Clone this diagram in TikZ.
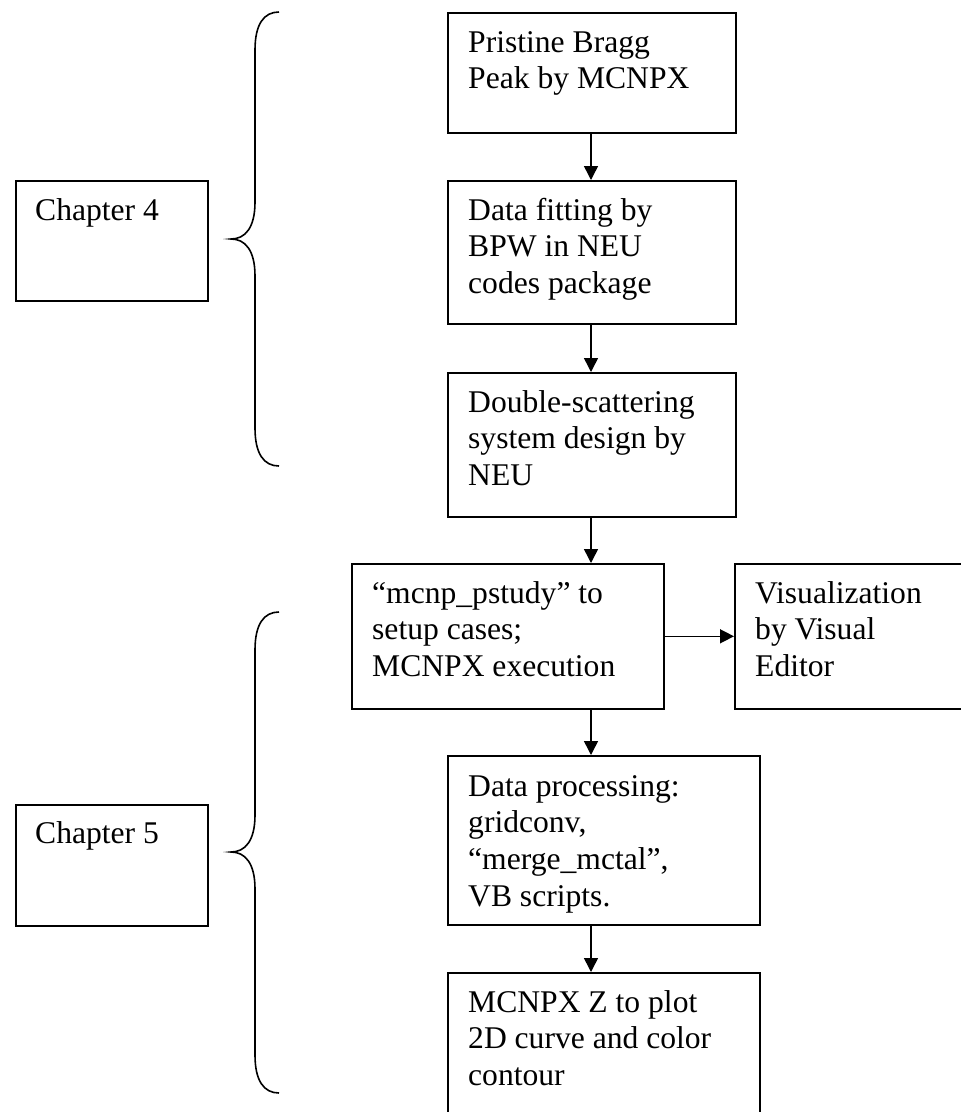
\documentclass[tikz,border=0pt]{standalone}
\usepackage{fontspec}
\setmainfont{Liberation Serif}
\usetikzlibrary{arrows.meta}
\newcommand{\firststrut}{\rule{0pt}{24pt}}
\begin{document}
\begin{tikzpicture}[x=1pt,y=-1pt,
  box/.style={draw=black, line width=1.6pt, rectangle, minimum width=#1, anchor=north west, inner sep=0pt},
  txt/.style={anchor=north west, align=left, inner sep=0pt, font=\fontsize{31.6}{36.7}\selectfont},
  arr/.style={line width=1.5pt, -{Triangle[length=14pt,width=14pt]}},
  brace/.style={line width=1.6pt}]
\useasboundingbox (0,0) rectangle (961,1112);
\clip (0,0) rectangle (961,1112);
% boxes
\node[box=288pt, minimum height=120pt] (b1) at (447,12) {};
\node[box=288pt, minimum height=143pt] (b2) at (447,180) {};
\node[box=288pt, minimum height=144pt] (b3) at (447,372) {};
\node[box=312pt, minimum height=145pt] (b4) at (351,563) {};
\node[box=250pt, minimum height=145pt] (b5) at (734,563) {};
\node[box=312pt, minimum height=169pt] (b6) at (447,755) {};
\node[box=312pt, minimum height=160pt] (b7) at (447,972) {};
\node[box=192pt, minimum height=120pt] (c4) at (15,180) {};
\node[box=192pt, minimum height=121pt] (c5) at (15,804) {};
% texts (first baseline 40pt below the box top)
\node[txt] (t1) at ([shift={(21,16)}]b1.north west) {\firststrut Pristine Bragg\\Peak by MCNPX};
\node[txt] (t2) at ([shift={(21,16)}]b2.north west) {\firststrut Data fitting by\\BPW in NEU\\codes package};
\node[txt] (t3) at ([shift={(21,16)}]b3.north west) {\firststrut Double-scattering\\system design by\\NEU};
\node[txt] (t4) at ([shift={(21,16)}]b4.north west) {\firststrut “mcnp\_pstudy” to\\setup cases;\\MCNPX execution};
\node[txt] (t5) at ([shift={(21,16)}]b5.north west) {\firststrut Visualization\\by Visual\\Editor};
\node[txt] (t6) at ([shift={(21,17)}]b6.north west) {\firststrut Data processing:\\gridconv,\\“merge\_mctal”,\\VB scripts.};
\node[txt] (t7) at ([shift={(21,16)}]b7.north west) {\firststrut MCNPX Z to plot\\2D curve and color\\contour};
\node[txt] (tc4) at ([shift={(20,16)}]c4.north west) {\firststrut Chapter 4};
\node[txt] (tc5) at ([shift={(20,15)}]c5.north west) {\firststrut Chapter 5};
% arrows
\coordinate (col) at (591,0);
\draw[arr] (b1.south -| col) -- (b2.north -| col);
\draw[arr] (b2.south -| col) -- (b3.north -| col);
\draw[arr] (b3.south -| col) -- (b4.north -| col);
\draw[arr] (b4.south -| col) -- (b6.north -| col);
\draw[arr] (b6.south -| col) -- (b7.north -| col);
\draw[arr] (b4.east) -- (b5.west);
% braces
\draw[brace] (279,12) .. controls (264,12) and (255,24) .. (255,50) -- (255,202)
  .. controls (255,228) and (245,239) .. (231,239)
  .. controls (245,239) and (255,250) .. (255,276) -- (255,428)
  .. controls (255,454) and (264,466) .. (279,466);
\draw[brace] (279,612) .. controls (264,612) and (255,624) .. (255,650) -- (255,815)
  .. controls (255,841) and (245,852) .. (231,852)
  .. controls (245,852) and (255,863) .. (255,889) -- (255,1055)
  .. controls (255,1081) and (264,1093) .. (279,1093);
\end{tikzpicture}
\end{document}
